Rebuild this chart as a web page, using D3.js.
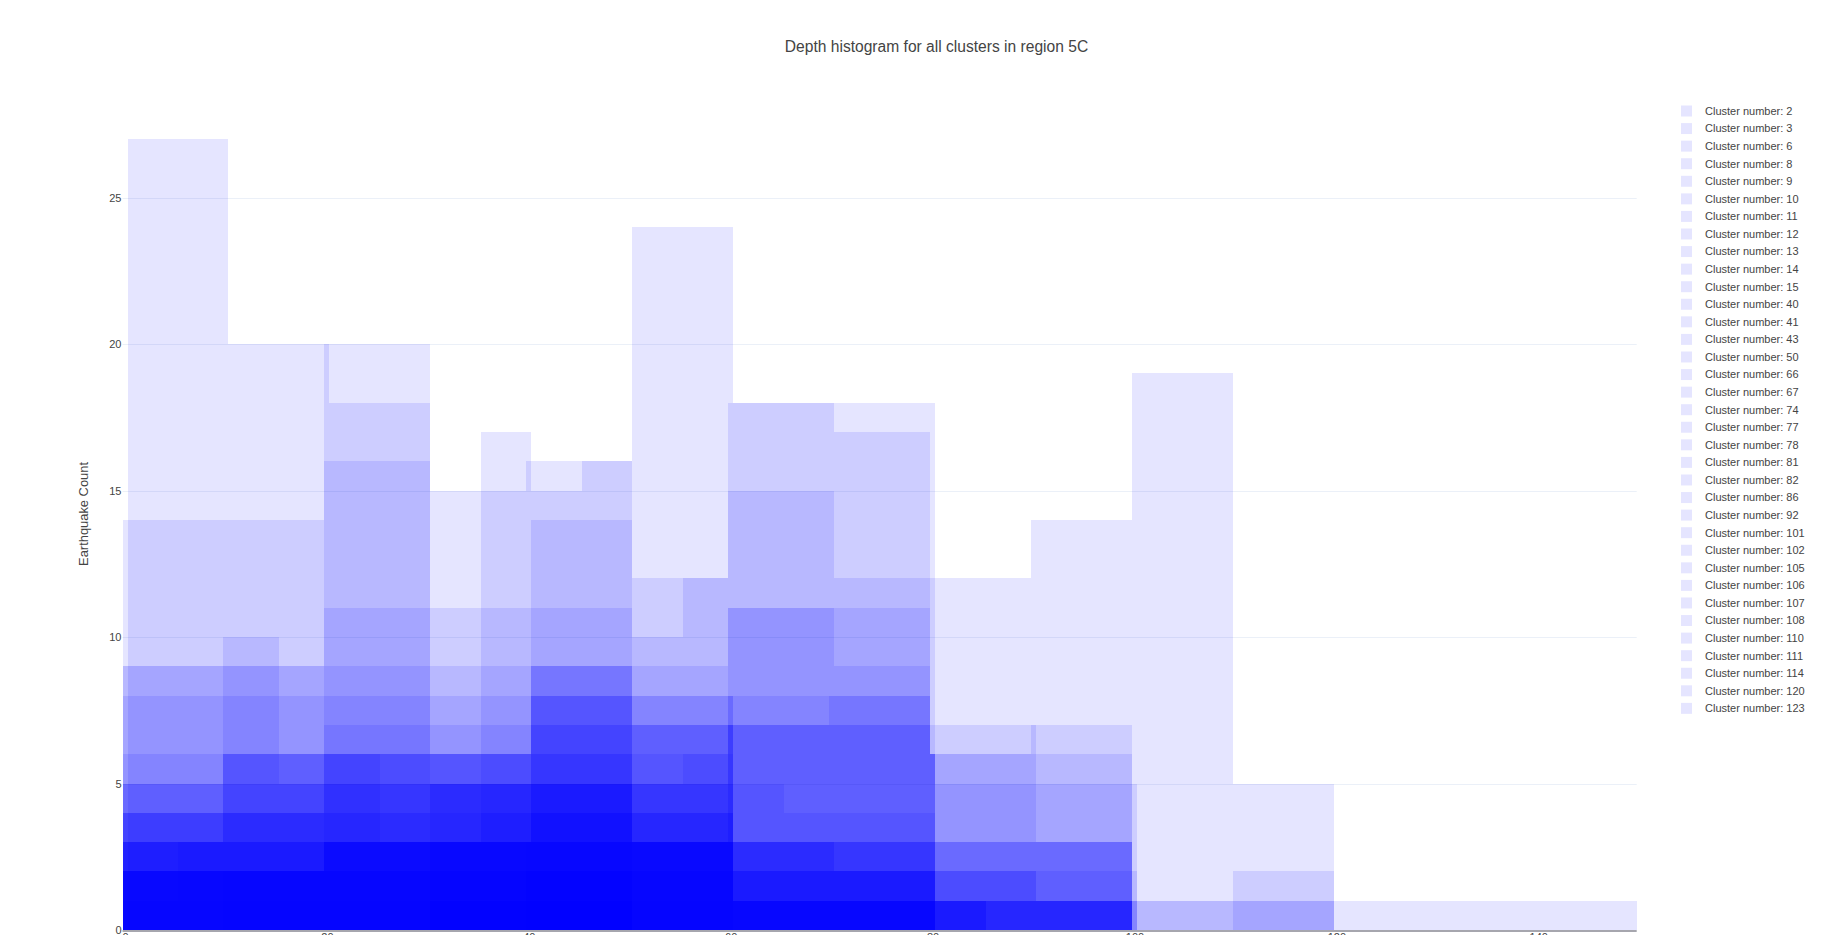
<!DOCTYPE html>
<html>
<head>
<meta charset="utf-8">
<script src="https://cdn.jsdelivr.net/npm/d3@7"></script>
<style>
  html, body { margin: 0; padding: 0; background: #fff; overflow: hidden; }
  text { font-family: "Liberation Sans", Arial, sans-serif; }
</style>
</head>
<body>
<svg id="chart" width="1846" height="935"></svg>
<script>
// Cluster labels, in legend order
const clusterIds = [2, 3, 6, 8, 9, 10, 11, 12, 13, 14, 15, 40, 41, 43, 50, 66, 67, 74, 77, 78,
  81, 82, 86, 92, 101, 102, 105, 106, 107, 108, 110, 111, 114, 120, 123];

// Depth bin edges (km) shared by all clusters
const depthBinEdges = [-0.25, 0.25, 5.25, 9.75, 10.25, 15.25, 19.75, 20.25, 25.25, 29.75, 30.25,
  35.25, 39.75, 40.25, 45.25, 49.75, 50.25, 55.25, 59.75, 60.25, 65.25, 69.75, 70.25, 79.75,
  80.25, 85.25, 89.75, 90.25, 99.75, 100.25, 109.75, 119.75, 149.75];

// Earthquake counts per depth bin, one row per cluster (same order as clusterIds)
const countsByCluster = [
  [14,27,27,27,20,20,20,20,20,20,15,17,17,16,16,16,24,24,24,18,18,18,18,18,12,12,14,14,19,19,5,1],
  [9,14,14,14,14,14,20,18,18,18,11,15,16,15,16,16,12,12,18,18,18,18,17,12,7,7,7,7,5,1,2,0],
  [9,9,9,10,10,9,16,16,16,16,9,11,11,14,14,14,10,12,15,15,15,15,12,7,6,6,7,6,2,1,1,0],
  [8,9,9,9,9,9,11,11,11,11,8,9,9,11,11,11,9,9,11,11,11,11,11,6,6,6,6,5,1,0,1,0],
  [6,8,8,9,9,8,9,9,9,9,7,8,8,9,9,9,8,8,11,11,11,11,9,6,5,5,5,3,1,0,0,0],
  [5,6,6,8,8,6,8,8,8,8,6,7,7,9,9,9,8,8,8,8,8,8,8,6,3,3,3,3,1,0,0,0],
  [5,5,5,6,6,6,7,7,7,7,6,6,6,9,9,9,7,7,8,7,7,8,8,6,3,3,3,3,0,0,0,0],
  [5,5,5,6,6,6,6,6,6,6,6,6,6,8,8,8,7,7,8,7,7,7,7,6,3,3,3,3,0,0,0,0],
  [4,5,5,6,6,6,6,6,6,6,6,6,6,8,8,8,7,7,7,7,7,7,7,6,2,2,2,2,0,0,0,0],
  [4,4,4,6,6,5,6,6,6,6,6,6,6,8,8,8,6,6,7,5,4,4,4,4,2,2,2,1,0,0,0,0],
  [4,4,4,5,5,5,6,6,6,6,5,6,6,7,7,7,5,6,7,3,3,3,3,3,2,2,2,1,0,0,0,0],
  [4,4,4,5,5,5,6,6,5,5,5,5,5,7,7,7,5,5,7,3,3,3,3,3,1,1,1,1,0,0,0,0],
  [3,4,4,4,4,4,5,5,5,5,5,5,5,6,6,6,5,5,7,3,3,3,3,3,1,1,1,1,0,0,0,0],
  [3,3,3,4,4,4,5,5,5,5,5,5,5,6,6,6,5,5,6,3,3,3,3,3,1,1,1,1,0,0,0,0],
  [3,3,3,4,4,4,5,5,4,4,5,5,5,5,5,5,4,4,5,3,3,3,2,2,1,1,1,1,0,0,0,0],
  [3,3,3,4,4,4,4,4,4,4,5,5,5,5,5,5,4,4,5,3,3,3,2,2,1,1,1,1,0,0,0,0],
  [3,3,3,3,3,3,4,4,3,3,4,5,5,5,5,5,4,4,4,2,2,2,2,2,1,1,1,1,0,0,0,0],
  [3,3,3,3,3,3,3,3,3,3,3,4,4,5,5,5,3,3,4,2,2,2,2,2,1,0,0,0,0,0,0,0],
  [2,3,3,3,3,3,3,3,3,3,3,4,4,5,5,5,3,3,4,2,2,2,2,2,1,0,0,0,0,0,0,0],
  [2,2,3,3,3,3,3,3,3,3,3,3,3,5,5,5,3,3,3,2,2,2,2,2,1,0,0,0,0,0,0,0],
  [2,2,2,2,2,2,3,3,3,3,3,3,3,4,4,4,3,3,3,1,1,1,1,1,0,0,0,0,0,0,0,0],
  [2,2,2,2,2,2,3,3,3,3,3,3,3,4,4,4,3,3,3,1,1,1,1,1,0,0,0,0,0,0,0,0],
  [2,2,2,2,2,2,3,3,3,3,3,3,3,4,4,4,3,3,3,1,1,1,1,1,0,0,0,0,0,0,0,0],
  [2,2,2,2,2,2,3,3,3,3,3,3,3,3,3,3,3,3,3,1,1,1,1,1,0,0,0,0,0,0,0,0],
  [2,2,2,2,2,2,3,3,3,3,3,3,3,3,3,3,3,3,3,1,1,1,1,1,0,0,0,0,0,0,0,0],
  [2,2,2,2,2,2,3,3,3,3,3,3,3,3,3,3,3,3,3,1,1,1,1,1,0,0,0,0,0,0,0,0],
  [2,2,2,2,2,2,2,2,2,2,3,3,3,3,3,3,3,3,3,1,1,1,1,1,0,0,0,0,0,0,0,0],
  [1,2,2,2,2,2,2,2,2,2,3,3,3,3,3,3,2,2,2,1,1,1,1,1,0,0,0,0,0,0,0,0],
  [1,1,2,2,2,2,2,2,2,2,2,2,3,3,3,3,2,2,2,1,1,1,1,1,0,0,0,0,0,0,0,0],
  [0,1,1,2,2,2,2,2,2,2,2,2,2,2,2,2,2,2,2,0,0,0,0,0,0,0,0,0,0,0,0,0],
  [0,0,0,1,1,1,1,1,1,1,2,2,2,2,2,2,1,1,1,0,0,0,0,0,0,0,0,0,0,0,0,0],
  [0,0,0,0,0,0,0,0,0,0,1,1,2,2,2,2,0,0,0,0,0,0,0,0,0,0,0,0,0,0,0,0],
  [0,0,0,0,0,0,0,0,0,0,1,1,2,2,2,2,0,0,0,0,0,0,0,0,0,0,0,0,0,0,0,0],
  [0,0,0,0,0,0,0,0,0,0,1,1,1,1,1,1,0,0,0,0,0,0,0,0,0,0,0,0,0,0,0,0],
  [0,0,0,0,0,0,0,0,0,0,0,0,1,1,1,1,0,0,0,0,0,0,0,0,0,0,0,0,0,0,0,0]
];

const xTickValues = [0, 20, 40, 60, 80, 100, 120, 140];
const yTickValues = [0, 5, 10, 15, 20, 25];
const chartTitle = "Depth histogram for all clusters in region 5C";
const yAxisTitle = "Earthquake Count";

// ---- layout ----
const plot = { left: 122.5, right: 1636.7, top: 97.9, bottom: 930 };
const barColor = "#0000ff";
const barOpacity = 0.1;
const fontColor = "#444";

const svg = d3.select("#chart");

const x = d3.scaleLinear().domain([-0.25, 149.75]).range([plot.left, plot.right]);
const y = d3.scaleLinear().domain([0, 28.4]).range([plot.bottom, plot.top]);

// horizontal grid
svg.append("g")
  .selectAll("line")
  .data(yTickValues.filter(d => d > 0))
  .join("line")
  .attr("x1", plot.left).attr("x2", plot.right)
  .attr("y1", d => Math.round(y(d)) + 0.5)
  .attr("y2", d => Math.round(y(d)) + 0.5)
  .attr("stroke", "#EBF0F8")
  .attr("stroke-width", 1);

// overlaid histograms, one translucent layer per cluster
const bars = svg.append("g").attr("shape-rendering", "crispEdges");
countsByCluster.forEach((counts, ci) => {
  // merge neighbouring bins of equal height into a single rectangle
  const runs = [];
  counts.forEach((c, j) => {
    const last = runs[runs.length - 1];
    if (last && last.count === c && last.end === j) { last.end = j + 1; }
    else runs.push({ count: c, start: j, end: j + 1 });
  });
  bars.append("g")
    .attr("class", "cluster-" + clusterIds[ci])
    .selectAll("rect")
    .data(runs.filter(r => r.count > 0))
    .join("rect")
    .attr("x", r => Math.round(x(depthBinEdges[r.start])))
    .attr("width", r => Math.round(x(depthBinEdges[r.end])) - Math.round(x(depthBinEdges[r.start])))
    .attr("y", r => Math.round(y(r.count)))
    .attr("height", r => Math.round(y(0)) - Math.round(y(r.count)))
    .attr("fill", barColor)
    .attr("fill-opacity", barOpacity);
});

// baseline
svg.append("line")
  .attr("x1", plot.left).attr("x2", plot.right)
  .attr("y1", 931).attr("y2", 931)
  .attr("stroke", "#a6a6ae").attr("stroke-width", 2);

// axes
const xAxis = d3.axisBottom(x).tickValues(xTickValues).tickSize(0).tickPadding(3);
const gx = svg.append("g").attr("transform", `translate(0,${plot.bottom})`).call(xAxis);
gx.select(".domain").remove();
gx.selectAll("text").attr("fill", fontColor).style("font-size", "11px")
  .style("font-family", '"Liberation Sans", Arial, sans-serif');

const yAxis = d3.axisLeft(y).tickValues(yTickValues).tickSize(0).tickPadding(1);
const gy = svg.append("g").attr("transform", `translate(${plot.left},0)`).call(yAxis);
gy.select(".domain").remove();
gy.selectAll("text").attr("fill", fontColor).style("font-size", "11px")
  .style("font-family", '"Liberation Sans", Arial, sans-serif');

// title
svg.append("text")
  .attr("x", 936.5).attr("y", 51.5)
  .attr("text-anchor", "middle")
  .attr("fill", fontColor)
  .style("font-size", "15.6px")
  .text(chartTitle);

// y axis title
svg.append("text")
  .attr("transform", `translate(87.5,${(plot.top + plot.bottom) / 2}) rotate(-90)`)
  .attr("text-anchor", "middle")
  .attr("fill", fontColor)
  .style("font-size", "12.9px")
  .text(yAxisTitle);

// legend
const legend = svg.append("g").attr("transform", "translate(1681,111)");
const items = legend.selectAll("g")
  .data(clusterIds)
  .join("g")
  .attr("transform", (d, i) => `translate(0,${i * 17.57})`);
items.append("rect")
  .attr("x", 0).attr("y", -5.5).attr("width", 11).attr("height", 11)
  .attr("fill", barColor).attr("fill-opacity", barOpacity);
items.append("text")
  .attr("x", 24).attr("y", 0).attr("dy", "0.35em")
  .attr("fill", fontColor)
  .style("font-size", "11px")
  .text(d => "Cluster number: " + d);
</script>
</body>
</html>
